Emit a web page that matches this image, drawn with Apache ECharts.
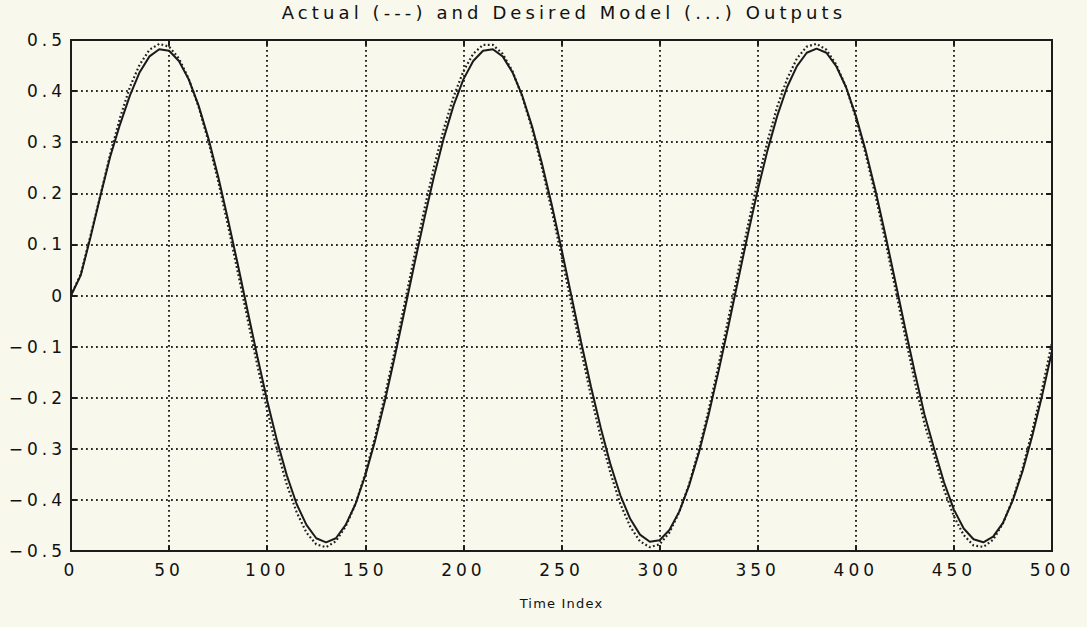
<!DOCTYPE html>
<html>
<head>
<meta charset="utf-8">
<script src="https://cdn.jsdelivr.net/npm/echarts@6/dist/echarts.min.js"></script>
<style>
  html, body { margin: 0; padding: 0; background: #f8f8ec; }
  #chart { width: 1087px; height: 627px; }
  #chart text { letter-spacing: 4px; }
  #chart text[style*="18px"] { letter-spacing: 4.1px; }
  #chart text[style*="13px"] { letter-spacing: 1.2px; }
</style>
</head>
<body>
<div id="chart"></div>
<script>
// Time index samples (every 5 steps)
const timeIndex = [0,5,10,15,20,25,30,35,40,45,50,55,60,65,70,75,80,85,90,95,
  100,105,110,115,120,125,130,135,140,145,150,155,160,165,170,175,180,185,190,195,
  200,205,210,215,220,225,230,235,240,245,250,255,260,265,270,275,280,285,290,295,
  300,305,310,315,320,325,330,335,340,345,350,355,360,365,370,375,380,385,390,395,
  400,405,410,415,420,425,430,435,440,445,450,455,460,465,470,475,480,485,490,495,500];

// Actual output (solid line)
const actualOutput = [0,0.04,0.115,0.195,0.272,0.335,0.391,0.437,0.468,0.482,
  0.479,0.459,0.423,0.372,0.308,0.233,0.149,0.061,-0.030,-0.120,
  -0.206,-0.284,-0.352,-0.408,-0.449,-0.475,-0.483,-0.475,-0.449,-0.408,
  -0.352,-0.284,-0.206,-0.120,-0.030,0.061,0.149,0.233,0.308,0.372,
  0.423,0.459,0.479,0.482,0.468,0.437,0.391,0.331,0.259,0.178,
  0.091,0,-0.091,-0.178,-0.259,-0.331,-0.391,-0.437,-0.468,-0.482,
  -0.479,-0.459,-0.423,-0.372,-0.308,-0.233,-0.149,-0.061,0.030,0.120,
  0.206,0.284,0.352,0.408,0.449,0.475,0.483,0.475,0.449,0.408,
  0.352,0.284,0.206,0.120,0.030,-0.061,-0.149,-0.233,-0.301,-0.366,
  -0.419,-0.456,-0.477,-0.483,-0.472,-0.445,-0.401,-0.344,-0.274,-0.195,
  -0.109];

// Desired model output (dotted line)
const desiredOutput = [0,0.042,0.118,0.196,0.277,0.348,0.408,0.452,0.481,0.4925,
  0.487,0.464,0.424,0.370,0.302,0.224,0.137,0.046,-0.046,-0.137,
  -0.224,-0.302,-0.370,-0.424,-0.464,-0.487,-0.4925,-0.481,-0.452,-0.408,
  -0.348,-0.277,-0.196,-0.108,-0.016,0.077,0.167,0.251,0.326,0.389,
  0.439,0.473,0.4905,0.4905,0.473,0.439,0.389,0.326,0.251,0.167,
  0.077,-0.016,-0.108,-0.196,-0.277,-0.348,-0.408,-0.452,-0.481,-0.4925,
  -0.487,-0.464,-0.424,-0.370,-0.302,-0.224,-0.137,-0.046,0.046,0.137,
  0.224,0.302,0.370,0.424,0.464,0.487,0.4925,0.481,0.452,0.408,
  0.348,0.277,0.196,0.108,0.016,-0.077,-0.167,-0.251,-0.314,-0.380,
  -0.432,-0.469,-0.489,-0.492,-0.478,-0.446,-0.399,-0.338,-0.264,-0.182,
  -0.092];

const chartTitle = 'Actual (---) and Desired Model (...) Outputs';
const xAxisName = 'Time Index';

const ink = '#1c1c1c';
const textInk = '#111';
const fontFamily = '"DejaVu Sans", sans-serif';

const chart = echarts.init(document.getElementById('chart'), null, { renderer: 'svg' });

const tickStyle = { show: true, inside: true, length: 6, lineStyle: { color: ink, width: 2 } };
const gridDots = { show: true, lineStyle: { color: '#2a2a2a', width: 2, type: [1.8, 3.2] } };
const frameLine = { show: true, onZero: false, lineStyle: { color: ink, width: 2 } };

chart.setOption({
  backgroundColor: '#f8f8ec',
  animation: false,
  title: {
    text: chartTitle,
    left: 559,
    textAlign: 'center',
    top: -2,
    textStyle: { fontFamily, fontSize: 18, fontWeight: 'normal', color: textInk }
  },
  grid: {
    left: 71, right: 35, top: 40, bottom: 76,
    show: true, borderColor: ink, borderWidth: 2, backgroundColor: 'transparent'
  },
  xAxis: [{
    type: 'value', min: 0, max: 500, interval: 50,
    position: 'bottom',
    name: xAxisName, nameLocation: 'middle', nameGap: 46,
    nameTextStyle: { fontFamily, fontSize: 13, color: textInk },
    axisLine: frameLine,
    axisTick: Object.assign({}, tickStyle, { length: 5 }),
    axisLabel: { fontFamily, fontSize: 17, color: textInk, margin: 10 },
    splitLine: gridDots
  }, {
    type: 'value', min: 0, max: 500, interval: 50,
    position: 'top',
    axisLine: frameLine,
    axisTick: Object.assign({}, tickStyle, { length: 5 }),
    axisLabel: { show: false },
    splitLine: { show: false }
  }],
  yAxis: [{
    type: 'value', min: -0.5, max: 0.5, interval: 0.1,
    position: 'left',
    axisLine: frameLine,
    axisTick: tickStyle,
    axisLabel: {
      fontFamily, fontSize: 17, color: textInk, margin: 5,
      formatter: v => {
        const r = Math.round(v * 10) / 10;
        if (r === 0) return '0';
        return (r < 0 ? '\u2212' : '') + Math.abs(r).toFixed(1);
      }
    },
    splitLine: gridDots
  }, {
    type: 'value', min: -0.5, max: 0.5, interval: 0.1,
    position: 'right',
    axisLine: frameLine,
    axisTick: tickStyle,
    axisLabel: { show: false },
    splitLine: { show: false }
  }],
  series: [{
    name: 'Desired Model',
    type: 'line',
    xAxisIndex: 0, yAxisIndex: 0,
    showSymbol: false, symbol: 'none',
    data: timeIndex.map((t, i) => [t, desiredOutput[i]]),
    lineStyle: { color: '#222', width: 2.2, type: [1.8, 2.4] },
    z: 3
  }, {
    name: 'Actual',
    type: 'line',
    xAxisIndex: 0, yAxisIndex: 0,
    showSymbol: false, symbol: 'none',
    data: timeIndex.map((t, i) => [t, actualOutput[i]]),
    lineStyle: { color: '#1a1a1a', width: 2 },
    z: 4
  }]
});
</script>
</body>
</html>
